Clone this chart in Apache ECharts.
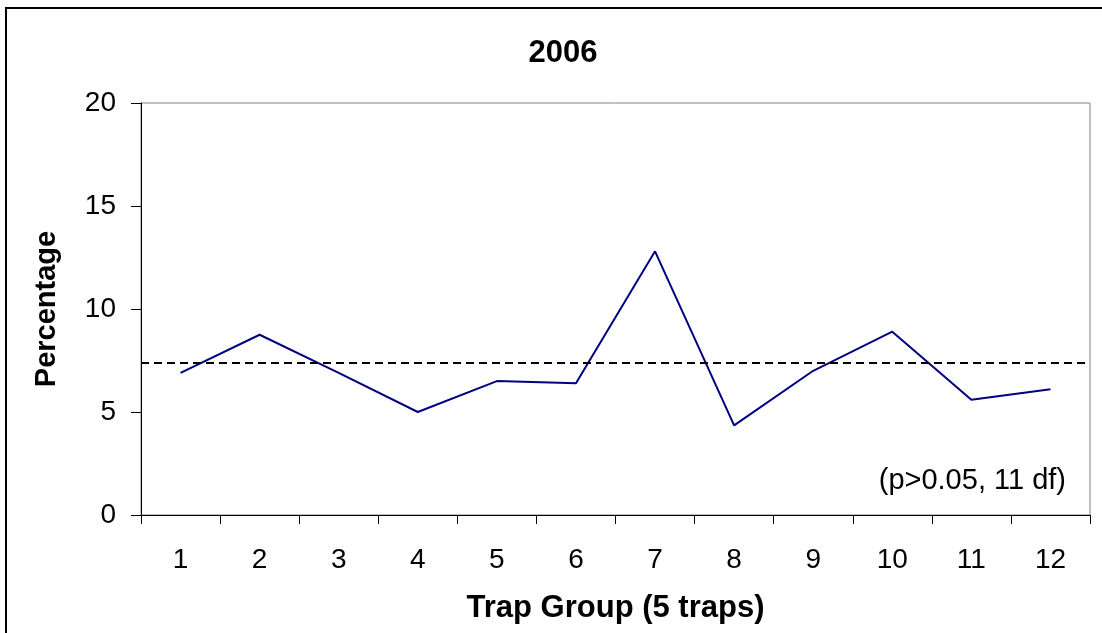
<!doctype html>
<html>
    <head>
        <meta charset="utf-8">
        <style>
            html, body { margin: 0; padding: 0; background: #fff; }
            #main { width: 1102px; height: 633px; }
        </style>
    </head>
    <body>
        <div id="main"></div>
        <script src="https://cdn.jsdelivr.net/npm/echarts@6/dist/echarts.min.js"></script>
        <script>
            var groups = ['1', '2', '3', '4', '5', '6', '7', '8', '9', '10', '11', '12'];
            var percentage = [6.9, 8.75, 6.9, 5.0, 6.5, 6.4, 12.8, 4.35, 7.0, 8.9, 5.6, 6.1];
            var meanLine = 7.4;
            var yTicks = [0, 5, 10, 15, 20];

            var FONT = '"Liberation Sans", Arial, sans-serif';
            var chart = echarts.init(document.getElementById('main'));

            chart.setOption({
                animation: false,
                backgroundColor: '#fff',
                title: {
                    text: '2006',
                    left: 558,
                    top: 33,
                    textAlign: 'center',
                    textStyle: {
                        fontFamily: FONT,
                        fontSize: 31,
                        fontWeight: 'bold',
                        color: '#000'
                    }
                },
                graphic: [{
                    type: 'rect',
                    shape: { x: 6, y: 8, width: 1200, height: 700 },
                    style: { fill: null, stroke: '#000', lineWidth: 2 },
                    silent: true,
                    z: -1
                }, {
                    type: 'text',
                    right: 1102 - 1066,
                    top: 466,
                    style: {
                        text: '(p>0.05, 11 df)',
                        font: '29px ' + FONT,
                        fill: '#000'
                    }
                }],
                grid: {
                    left: 141,
                    right: 12,
                    top: 103,
                    bottom: 118,
                    show: true,
                    borderColor: '#808080',
                    borderWidth: 1
                },
                xAxis: {
                    type: 'category',
                    data: groups,
                    boundaryGap: true,
                    name: 'Trap Group (5 traps)',
                    nameLocation: 'middle',
                    nameGap: 78,
                    nameTextStyle: {
                        fontFamily: FONT,
                        fontSize: 31,
                        fontWeight: 'bold',
                        color: '#000'
                    },
                    axisLine: { show: true, lineStyle: { color: '#000', width: 1 } },
                    axisTick: {
                        show: true,
                        alignWithLabel: false,
                        interval: 0,
                        length: 9,
                        lineStyle: { color: '#000' }
                    },
                    axisLabel: {
                        margin: 31,
                        interval: 0,
                        fontFamily: FONT,
                        fontSize: 28,
                        color: '#000'
                    },
                    splitLine: { show: false }
                },
                yAxis: {
                    type: 'value',
                    min: yTicks[0],
                    max: yTicks[yTicks.length - 1],
                    interval: 5,
                    name: 'Percentage',
                    nameLocation: 'middle',
                    nameGap: 80,
                    nameTextStyle: {
                        fontFamily: FONT,
                        fontSize: 29,
                        fontWeight: 'bold',
                        color: '#000'
                    },
                    axisLine: { show: true, lineStyle: { color: '#000', width: 1 } },
                    axisTick: { show: true, length: 10, lineStyle: { color: '#000' } },
                    axisLabel: {
                        margin: 25,
                        fontFamily: FONT,
                        fontSize: 28,
                        color: '#000'
                    },
                    splitLine: { show: false }
                },
                series: [{
                    type: 'line',
                    data: percentage,
                    symbol: 'none',
                    lineStyle: { color: '#000080', width: 2 },
                    markLine: {
                        silent: true,
                        symbol: 'none',
                        label: { show: false },
                        lineStyle: { color: '#000', type: [8, 5], width: 2 },
                        data: [{ yAxis: meanLine }]
                    }
                }]
            });
        </script>
    </body>
</html>
